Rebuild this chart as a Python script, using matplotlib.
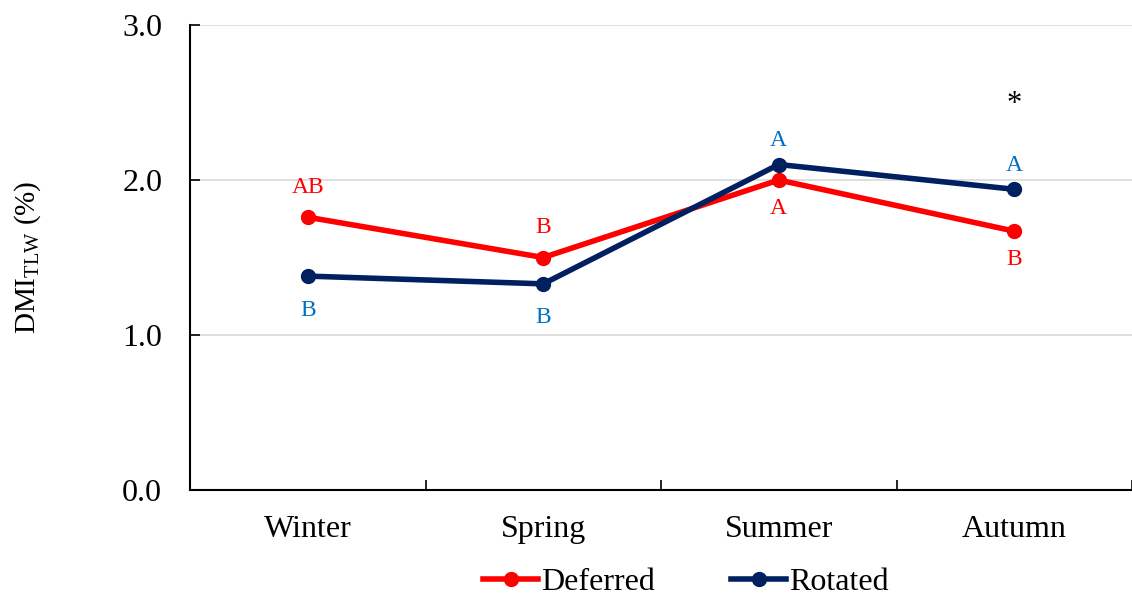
import matplotlib
matplotlib.use("Agg")
import matplotlib.pyplot as plt

plt.rcParams['font.family'] = ['Liberation Serif', 'DejaVu Serif']
plt.rcParams['mathtext.fontset'] = 'custom'
plt.rcParams['mathtext.rm'] = 'Liberation Serif'
plt.rcParams['mathtext.it'] = 'Liberation Serif:italic'

seasons = ["Winter", "Spring", "Summer", "Autumn"]
deferred = [1.76, 1.50, 2.00, 1.67]
rotated = [1.38, 1.33, 2.10, 1.94]
deferred_letters = ["AB", "B", "A", "B"]
rotated_letters = ["B", "B", "A", "A"]
deferred_above = [True, True, False, False]
rotated_above = [False, False, True, True]
star_season = 3
star_value = 2.49

fig = plt.figure(figsize=(11.32, 5.97), dpi=100)
ax = fig.add_axes([190/1132, 107/597, 942/1132, 465/597])

x = list(range(len(seasons)))
red = "#FF0000"
navy = "#002060"
ax.plot(x, deferred, color=red, lw=4, marker='o', ms=10, label="Deferred", zorder=3)
ax.plot(x, rotated, color=navy, lw=4, marker='o', ms=10, label="Rotated", zorder=3)

def annotate(vals, letters, above, color, up_px, down_px):
    for xi, v, t, a in zip(x, vals, letters, above):
        off = up_px if a else -down_px
        ax.annotate(t, (xi, v), xytext=(0, off * 0.72), textcoords='offset points',
                    ha='center', va='center', color=color, fontsize=17)

annotate(deferred, deferred_letters, deferred_above, red, 30, 28)
annotate(rotated, rotated_letters, rotated_above, "#0070C0", 24, 34)
ax.text(star_season, star_value, "*", ha='center', va='center', fontsize=22, color='black')

ax.set_xlim(-0.5, 3.5)
ax.set_ylim(0, 3.0)
ax.set_yticks([0, 1, 2, 3])
ax.set_yticklabels([f"{v:.1f}" for v in [0, 1, 2, 3]])
ax.set_xticks(x)
ax.set_xticklabels(seasons)
ax.set_xticks([0.5, 1.5, 2.5, 3.5], minor=True)
ax.tick_params(axis='x', which='major', length=0, pad=18, labelsize=23)
ax.tick_params(axis='x', which='minor', direction='in', length=7, width=1.2)
ax.tick_params(axis='y', direction='in', length=7, width=1.2, pad=20, labelsize=23)
ax.grid(axis='y', color='#D9D9D9', lw=1.2)
ax.set_axisbelow(True)
for s in ['top', 'right']:
    ax.spines[s].set_visible(False)
for s in ['left', 'bottom']:
    ax.spines[s].set_linewidth(1.5)
ax.set_ylabel(r"DMI$_{\mathrm{TLW}}$ (%)", fontsize=21)
ax.yaxis.set_label_coords((43 - 190) / 942, 0.5)

leg = fig.legend(loc='center', bbox_to_anchor=(686/1132, 15/597), ncol=2, frameon=False,
                 fontsize=23, handlelength=1.7, columnspacing=2.4, handletextpad=0.1)
fig.savefig("out.png", dpi=100)
